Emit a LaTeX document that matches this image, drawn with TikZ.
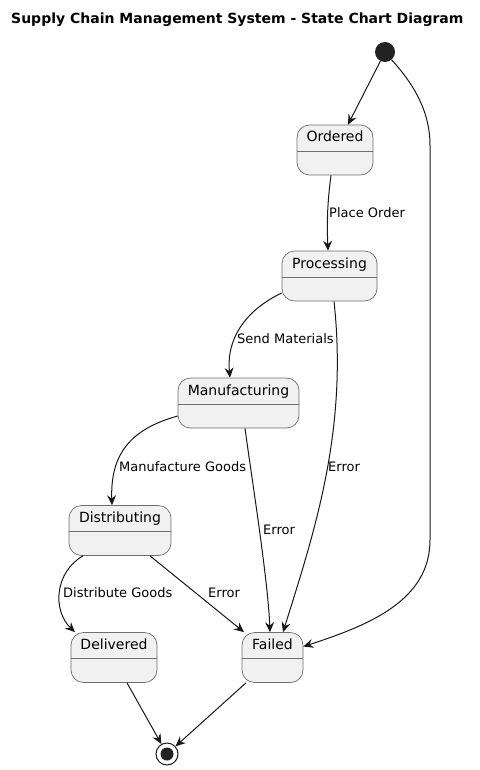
\documentclass[tikz,border=0pt]{standalone}
\usepackage{fontspec}
\setmainfont{DejaVu Sans}
\usetikzlibrary{arrows.meta,calc}
\definecolor{stfill}{HTML}{F1F1F1}
\definecolor{stborder}{HTML}{6E6E6E}
\definecolor{stline}{HTML}{181818}
\definecolor{dotc}{HTML}{222222}
\begin{document}
\begin{tikzpicture}[x=1pt,y=-1pt,
  statebox/.style={draw=stborder, line width=0.7pt, fill=stfill, rounded corners=12.5pt,
    inner sep=0pt, text height=17pt, text depth=33pt, font=\fontsize{14}{16}\selectfont,
    path picture={\draw[stborder,line width=0.7pt]
      ([yshift=-26pt]path picture bounding box.north west) --
      ([yshift=-26pt]path picture bounding box.north east);}},
  lbl/.style={font=\fontsize{13}{15}\selectfont, anchor=west, inner sep=0pt,
    text height=9.5pt, text depth=0pt},
  conn/.style={draw=stline, line width=1pt,
    -{Stealth[length=10pt,width=9pt,inset=3.5pt]}},
  startdot/.style={circle, fill=dotc, inner sep=0pt, minimum size=20pt},
  enddot/.style={circle, draw=stline, line width=1pt, fill=white, inner sep=0pt,
    minimum size=22pt,
    path picture={\fill[dotc] (path picture bounding box.center) circle (6.5pt);}},
]
\useasboundingbox (0,0) rectangle (479,770);

\node[anchor=west, inner sep=0pt, text height=10.2pt, text depth=0pt,
  font=\bfseries\fontsize{14}{16}\selectfont] (title) at (11,18.3)
  {Supply Chain Management System - State Chart Diagram};

\node[startdot] (init) at (385,52) {};
\node[statebox, minimum width=76pt] (ord) at (335,150) {Ordered};
\node[statebox, minimum width=95pt] (proc) at (329.5,276) {Processing};
\node[statebox, minimum width=121pt] (manu) at (238.5,403) {Manufacturing};
\node[statebox, minimum width=102pt] (dist) at (120,530.5) {Distributing};
\node[statebox, minimum width=86pt] (deliv) at (114,657.5) {Delivered};
\node[statebox, minimum width=61pt] (failed) at (272.5,657.5) {Failed};
\node[enddot] (final) at (167,754) {};

% connectors
\draw[conn] (init) -- ([xshift=13pt]ord.north);
\draw[conn] (init.-50) .. controls (412,82) and (430,110) .. (430,145) -- (430,540)
  .. controls (430,600) and (370,625) .. ([yshift=11pt]failed.east);
\draw[conn] ([xshift=-4pt]ord.south) .. controls (327,205) and (327,225) .. ([xshift=-1.5pt]proc.north);
\draw[conn] ([yshift=-17pt]proc.west) .. controls (250,308) and (226,335) .. ([xshift=-8.5pt]manu.north);
\draw[conn] ([xshift=4.5pt]proc.south) .. controls (348,430) and (315,530) .. ([xshift=10.5pt]failed.north);
\draw[conn] ([yshift=-13pt]manu.west) .. controls (135,428) and (110,450) .. ([xshift=-8pt]dist.north);
\draw[conn] ([xshift=6.5pt]manu.south) .. controls (252,480) and (268,580) .. ([xshift=-2.5pt]failed.north);
\draw[conn] ([xshift=-37pt]dist.south) .. controls (55,572) and (52,610) .. ([xshift=-39pt]deliv.north);
\draw[conn] ([xshift=30pt]dist.south) -- ([xshift=-28.5pt]failed.north);
\draw[conn] ([xshift=13pt]deliv.south) -- (final);
\draw[conn] ([xshift=-26.5pt]failed.south) -- (final);

% labels
\node[lbl] (l1) at (329,212.5) {Place Order};
\node[lbl] (l2) at (237,339) {Send Materials};
\node[lbl] (l3) at (328,467) {Error};
\node[lbl] (l4) at (119,467) {Manufacture Goods};
\node[lbl] (l5) at (263,530) {Error};
\node[lbl] (l6) at (63,593) {Distribute Goods};
\node[lbl] (l7) at (208,593) {Error};
\end{tikzpicture}
\end{document}
